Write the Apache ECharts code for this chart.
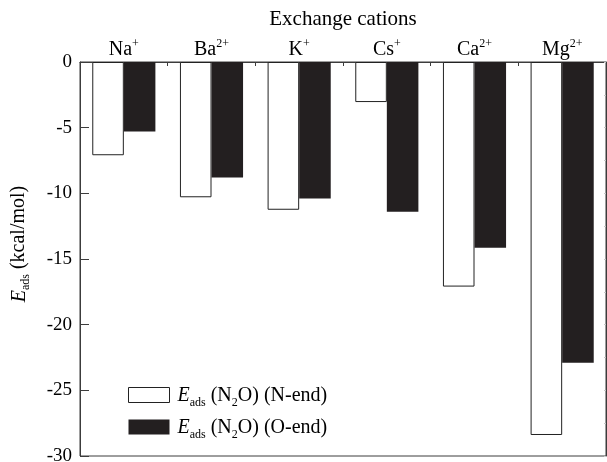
<!DOCTYPE html>
<html>
<head>
<meta charset="utf-8">
<script src="https://cdn.jsdelivr.net/npm/echarts@6/dist/echarts.min.js"></script>
<style>
html,body{margin:0;padding:0;background:#fff;}
#c{width:607px;height:462px;}
</style>
</head>
<body>
<div id="c"></div>
<script>
// Data
var categories = ['Na|+', 'Ba|2+', 'K|+', 'Cs|+', 'Ca|2+', 'Mg|2+'];
var nEnd = [-7.1, -10.3, -11.25, -3.05, -17.1, -28.4];
var oEnd = [-5.3, -8.8, -10.4, -11.4, -14.15, -22.9];
var yTicks = [0, -5, -10, -15, -20, -25, -30];

var FONT = '"Liberation Serif", "DejaVu Serif", serif';
var AX = '#3c3c3c';

var chart = echarts.init(document.getElementById('c'), null, {renderer: 'canvas'});
chart.setOption({
  animation: false,
  backgroundColor: '#fff',
  textStyle: {fontFamily: FONT, color: '#000'},
  grid: {left: 80, right: 1, top: 62, bottom: 6, show: true, borderColor: AX, borderWidth: 1,
         containLabel: false, outerBoundsMode: 'none'},
  graphic: [{
    type: 'text',
    x: 19,
    y: 244,
    rotation: Math.PI / 2,
    style: {
      text: '{i|E}{sub|ads} (kcal/mol)',
      align: 'center',
      verticalAlign: 'middle',
      font: '20px ' + FONT,
      fill: '#000',
      rich: {
        i: {fontFamily: FONT, fontSize: 20, fontStyle: 'italic', fill: '#000', verticalAlign: 'bottom', lineHeight: 22},
        sub: {fontFamily: FONT, fontSize: 12, fill: '#000', verticalAlign: 'bottom', lineHeight: 22, padding: [0, 0, -2, 0]}
      }
    }
  }],
  xAxis: [{
    type: 'category',
    position: 'top',
    data: categories,
    name: 'Exchange cations',
    nameLocation: 'middle',
    nameGap: 32,
    nameTextStyle: {fontFamily: FONT, fontSize: 21, color: '#000'},
    axisLine: {show: true, lineStyle: {color: AX, width: 1}},
    axisTick: {show: true, inside: true, length: 4, interval: 0, lineStyle: {color: AX}},
    axisLabel: {
      interval: 0,
      margin: 2,
      fontFamily: FONT,
      fontSize: 20,
      color: '#000',
      formatter: function (v) {
        var p = v.split('|');
        return '{b|' + p[0] + '}{s|' + p[1] + '}';
      },
      rich: {
        b: {fontFamily: FONT, fontSize: 20, color: '#000', lineHeight: 22, verticalAlign: 'bottom'},
        s: {fontFamily: FONT, fontSize: 12, color: '#000', lineHeight: 22, verticalAlign: 'top', padding: [0, 0, 10, 0]}
      }
    },
    splitLine: {show: false}
  }],
  yAxis: [{
    type: 'value',
    min: -30,
    max: 0,
    interval: 5,
    axisLine: {show: true, lineStyle: {color: AX, width: 1}},
    axisTick: {show: true, inside: true, length: 9, lineStyle: {color: AX}},
    axisLabel: {
      margin: 8, fontFamily: FONT, fontSize: 19, color: '#000',
      formatter: function (v) { return yTicks.indexOf(v) >= 0 ? String(v) : ''; }
    },
    splitLine: {show: false}
  }, {
    type: 'value',
    position: 'right',
    min: -30,
    max: 0,
    interval: 2.5,
    axisLine: {show: true, lineStyle: {color: AX, width: 1}},
    axisTick: {show: true, inside: true, length: 2, lineStyle: {color: '#c8c8c8'}},
    axisLabel: {show: false},
    splitLine: {show: false}
  }],
  legend: {
    orient: 'vertical',
    left: 123,
    top: 380,
    itemWidth: 41,
    itemHeight: 15,
    itemGap: 8,
    selectedMode: false,
    formatter: function (name) {
      return name === 'N' ?
        '{i|E}{sub|ads} {t|(N}{sub|2}{t|O) (N-end)}' :
        '{i|E}{sub|ads} {t|(N}{sub|2}{t|O) (O-end)}';
    },
    textStyle: {
      fontFamily: FONT, fontSize: 20, color: '#000', padding: [0, 0, 0, 3],
      rich: {
        i: {fontFamily: FONT, fontSize: 20, fontStyle: 'italic', color: '#000', verticalAlign: 'bottom', lineHeight: 22},
        t: {fontFamily: FONT, fontSize: 20, color: '#000', verticalAlign: 'bottom', lineHeight: 22},
        sub: {fontFamily: FONT, fontSize: 12, color: '#000', verticalAlign: 'bottom', lineHeight: 22, padding: [0, 0, -3, 0]}
      }
    },
    data: [
      {name: 'N', icon: 'rect', itemStyle: {color: '#fff', borderColor: '#222', borderWidth: 1}},
      {name: 'O', icon: 'rect', itemStyle: {color: '#231f20', borderWidth: 0}}
    ]
  },
  series: [{
    name: 'N',
    type: 'bar',
    data: nEnd,
    barGap: '0%',
    barCategoryGap: '28%',
    itemStyle: {color: '#fff', borderColor: '#222', borderWidth: 1},
    emphasis: {disabled: true}
  }, {
    name: 'O',
    type: 'bar',
    data: oEnd,
    itemStyle: {color: '#231f20', borderColor: '#231f20', borderWidth: 0},
    emphasis: {disabled: true}
  }]
});
</script>
</body>
</html>
